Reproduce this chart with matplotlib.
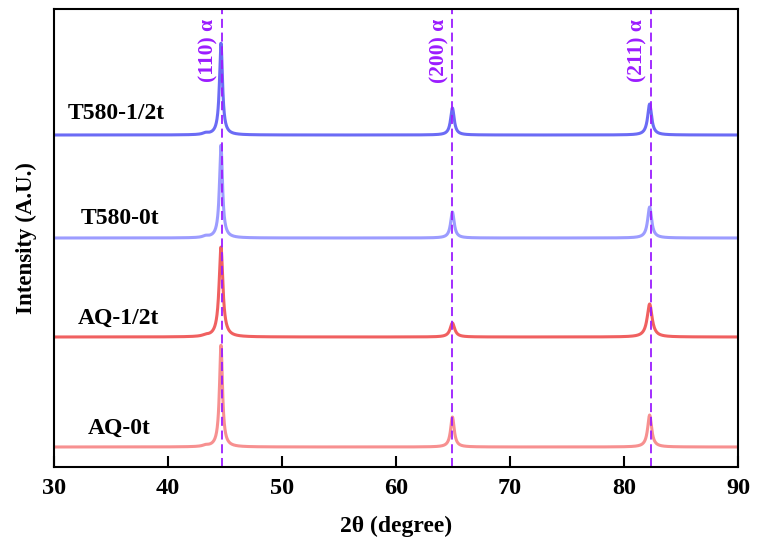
import numpy as np
import matplotlib
matplotlib.use("Agg")
import matplotlib.pyplot as plt

# ---- data ----
samples = ["T580-1/2t", "T580-0t", "AQ-1/2t", "AQ-0t"]
colors = ["#6b6bf5", "#9c9cff", "#f06060", "#f79090"]
offsets = [332, 229, 130, 20]
peak_pos = [44.65, 64.95, 82.25]
peak_labels = ["(110) α", "(200) α", "(211) α"]
line_pos = [44.7, 64.95, 82.35]
peak_heights = [
    [92, 27, 31],
    [93, 26, 31],
    [90, 14, 33],
    [102, 30, 32],
]
peak_widths = [
    [0.32, 0.38, 0.42],
    [0.32, 0.38, 0.42],
    [0.40, 0.48, 0.52],
    [0.32, 0.38, 0.42],
]
shoulder_pos = 43.3
shoulder_heights = [1.5, 1.5, 1.2, 1.2]
label_xy = [(31.2, 354), (32.3, 249), (32.1, 149), (33.0, 39)]

x = np.linspace(30, 90, 3001)


def lor(x, c, h, w):
    return h / (1 + ((x - c) / (w / 2)) ** 2)


plt.rcParams["font.family"] = ["Liberation Serif", "DejaVu Serif"]
plt.rcParams["font.weight"] = "bold"

fig = plt.figure(figsize=(7.58, 5.46), dpi=100)
ax = fig.add_axes([0.0712, 0.1447, 0.9024, 0.8388])

for i, s in enumerate(samples):
    y = np.full_like(x, offsets[i], dtype=float)
    for c, h, w in zip(peak_pos, peak_heights[i], peak_widths[i]):
        y += lor(x, c, h, w)
    y += lor(x, shoulder_pos, shoulder_heights[i], 0.6)
    ax.plot(x, y, color=colors[i], lw=2.2, solid_joinstyle="round")
    ax.text(label_xy[i][0], label_xy[i][1], s, fontsize=17, fontweight="bold",
            ha="left", va="center", color="black")

for lp, lab in zip(line_pos, peak_labels):
    ax.axvline(lp, color="#9b1cff", lw=1.3, dashes=(5, 2.6))
    ax.text(lp - 0.3, 448, lab, rotation=90, ha="right", va="top",
            fontsize=15.5, fontweight="bold", color="#9b1cff")

ax.set_xlim(30, 90)
ax.set_ylim(0, 458)
ax.set_xticks([30, 40, 50, 60, 70, 80, 90])
ax.set_yticks([])
ax.tick_params(axis="x", direction="in", length=8, width=1.5, labelsize=17.5, pad=8)
for lab in ax.get_xticklabels():
    lab.set_fontweight("bold")
for sp in ax.spines.values():
    sp.set_linewidth(1.5)
ax.set_xlabel("2θ (degree)", fontsize=17, fontweight="bold", labelpad=12)
ax.set_ylabel("Intensity (A.U.)", fontsize=16.5, fontweight="bold", labelpad=12)

fig.savefig("out.png", dpi=100)
